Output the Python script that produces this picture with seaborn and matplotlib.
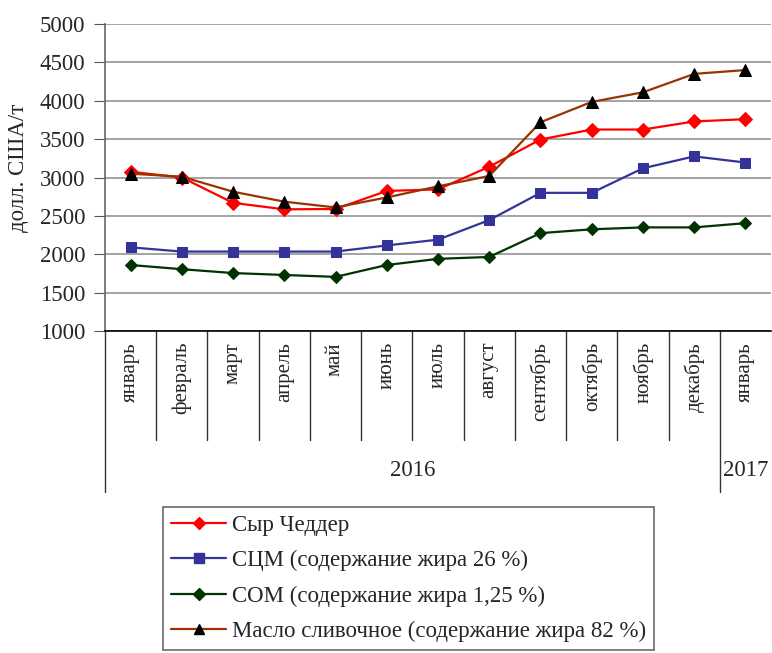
import numpy as np
import pandas as pd
import seaborn as sns
import matplotlib.pyplot as plt
from matplotlib.lines import Line2D

# данные (долл. США/т)
months = ['январь', 'февраль', 'март', 'апрель', 'май', 'июнь', 'июль',
          'август', 'сентябрь', 'октябрь', 'ноябрь', 'декабрь', 'январь']
years = ['2016', '2017']
year_spans = [12, 1]

cheddar = [3075, 3000, 2670, 2585, 2590, 2825, 2845, 3140, 3495, 3625, 3625, 3730, 3760]
scm = [2090, 2035, 2035, 2035, 2035, 2115, 2190, 2445, 2800, 2800, 3120, 3275, 3195]
som = [1860, 1805, 1755, 1730, 1705, 1860, 1940, 1965, 2275, 2325, 2350, 2350, 2405]
butter = [3050, 3010, 2815, 2685, 2610, 2740, 2885, 3020, 3720, 3985, 4110, 4350, 4400]

labels = ['Сыр Чеддер',
          'СЦМ (содержание жира 26 %)',
          'СОМ (содержание жира 1,25 %)',
          'Масло сливочное (содержание жира 82 %)']

sns.set_style('white')
plt.rcParams['font.family'] = ['Liberation Serif', 'DejaVu Serif']

fig = plt.figure(figsize=(7.72, 6.53), dpi=100)
W, H = 772, 653
x0, x1, y0, y1 = 105, 771, 24, 331
ax = fig.add_axes([x0 / W, 1 - y1 / H, (x1 - x0) / W, (y1 - y0) / H])

idx = np.arange(len(months))
df = pd.DataFrame({'idx': idx, 'cheddar': cheddar, 'scm': scm, 'som': som, 'butter': butter})

styles = [
    ('cheddar', '#ff0000', 'D', '#ff0000', 7),
    ('scm', '#333399', 's', '#333399', 7.5),
    ('som', '#003300', 'D', '#003300', 6.5),
    ('butter', '#993300', '^', '#000000', 8.5),
]
for col, c, m, mc, ms in styles:
    sns.lineplot(data=df, x='idx', y=col, ax=ax, color=c, marker=m, markersize=ms,
                 markerfacecolor=mc, markeredgecolor=mc, linewidth=1.6, zorder=3)

ax.set_xlim(-0.5, len(months) - 0.5)
ax.set_ylim(1000, 5000)
ax.set_yticks(np.arange(1000, 5001, 500))
ax.yaxis.grid(True, color='#8a8a8a', linewidth=1.1)
ax.xaxis.grid(False)
ax.set_xticks([])
ax.set_xlabel('')
ax.set_ylabel('')
ax.tick_params(axis='y', labelsize=16.5, length=8, color='#555555', left=True, pad=6)
for s in ['top', 'right']:
    ax.spines[s].set_visible(False)
ax.spines['left'].set_color('#666666')
ax.spines['bottom'].set_color('#000000')
ax.spines['left'].set_linewidth(1.2)
ax.spines['bottom'].set_linewidth(1.2)

# таблица подписей под осью
ax_h = y1 - y0
def yfrac(py):
    return (y1 - py) / ax_h  # axes fraction (negative below axis)

month_bottom = yfrac(440)
year_bottom = yfrac(492)
bt = ax.get_xaxis_transform()
for i in range(len(months) + 1):
    xb = i - 0.5
    if i == 0 or i == 12:
        ax.add_line(Line2D([xb, xb], [0, year_bottom], transform=bt, color='#333333',
                           linewidth=1.0, clip_on=False))
    elif i < len(months):
        ax.add_line(Line2D([xb, xb], [0, month_bottom], transform=bt, color='#333333',
                           linewidth=1.0, clip_on=False))
for i, m in enumerate(months):
    ax.text(i, yfrac(342), m, transform=bt, rotation=90, ha='center', va='top',
            fontsize=15, clip_on=False)
start = 0
for yr, span in zip(years, year_spans):
    ax.text(start + span / 2 - 0.5, yfrac(470), yr, transform=bt, ha='center',
            va='center', fontsize=16.5, clip_on=False)
    start += span

fig.text(19 / W, 1 - 168 / H, 'долл. США/т', rotation=90, ha='center', va='center',
         fontsize=16.5)

handles = [Line2D([], [], color=c, marker=m, markersize=ms * 0.9, markerfacecolor=mc,
                  markeredgecolor=mc, linewidth=1.6) for _, c, m, mc, ms in styles]
leg = fig.legend(handles, labels, loc='upper left', bbox_to_anchor=(163 / W, 1 - 507 / H),
                 fontsize=16.5, frameon=True, fancybox=False, edgecolor='#444444',
                 handlelength=2.4, handletextpad=0.25, labelspacing=0.62, numpoints=1,
                 borderpad=0.35, borderaxespad=0)
leg.get_frame().set_linewidth(1.2)

fig.savefig('out.png', dpi=100)
